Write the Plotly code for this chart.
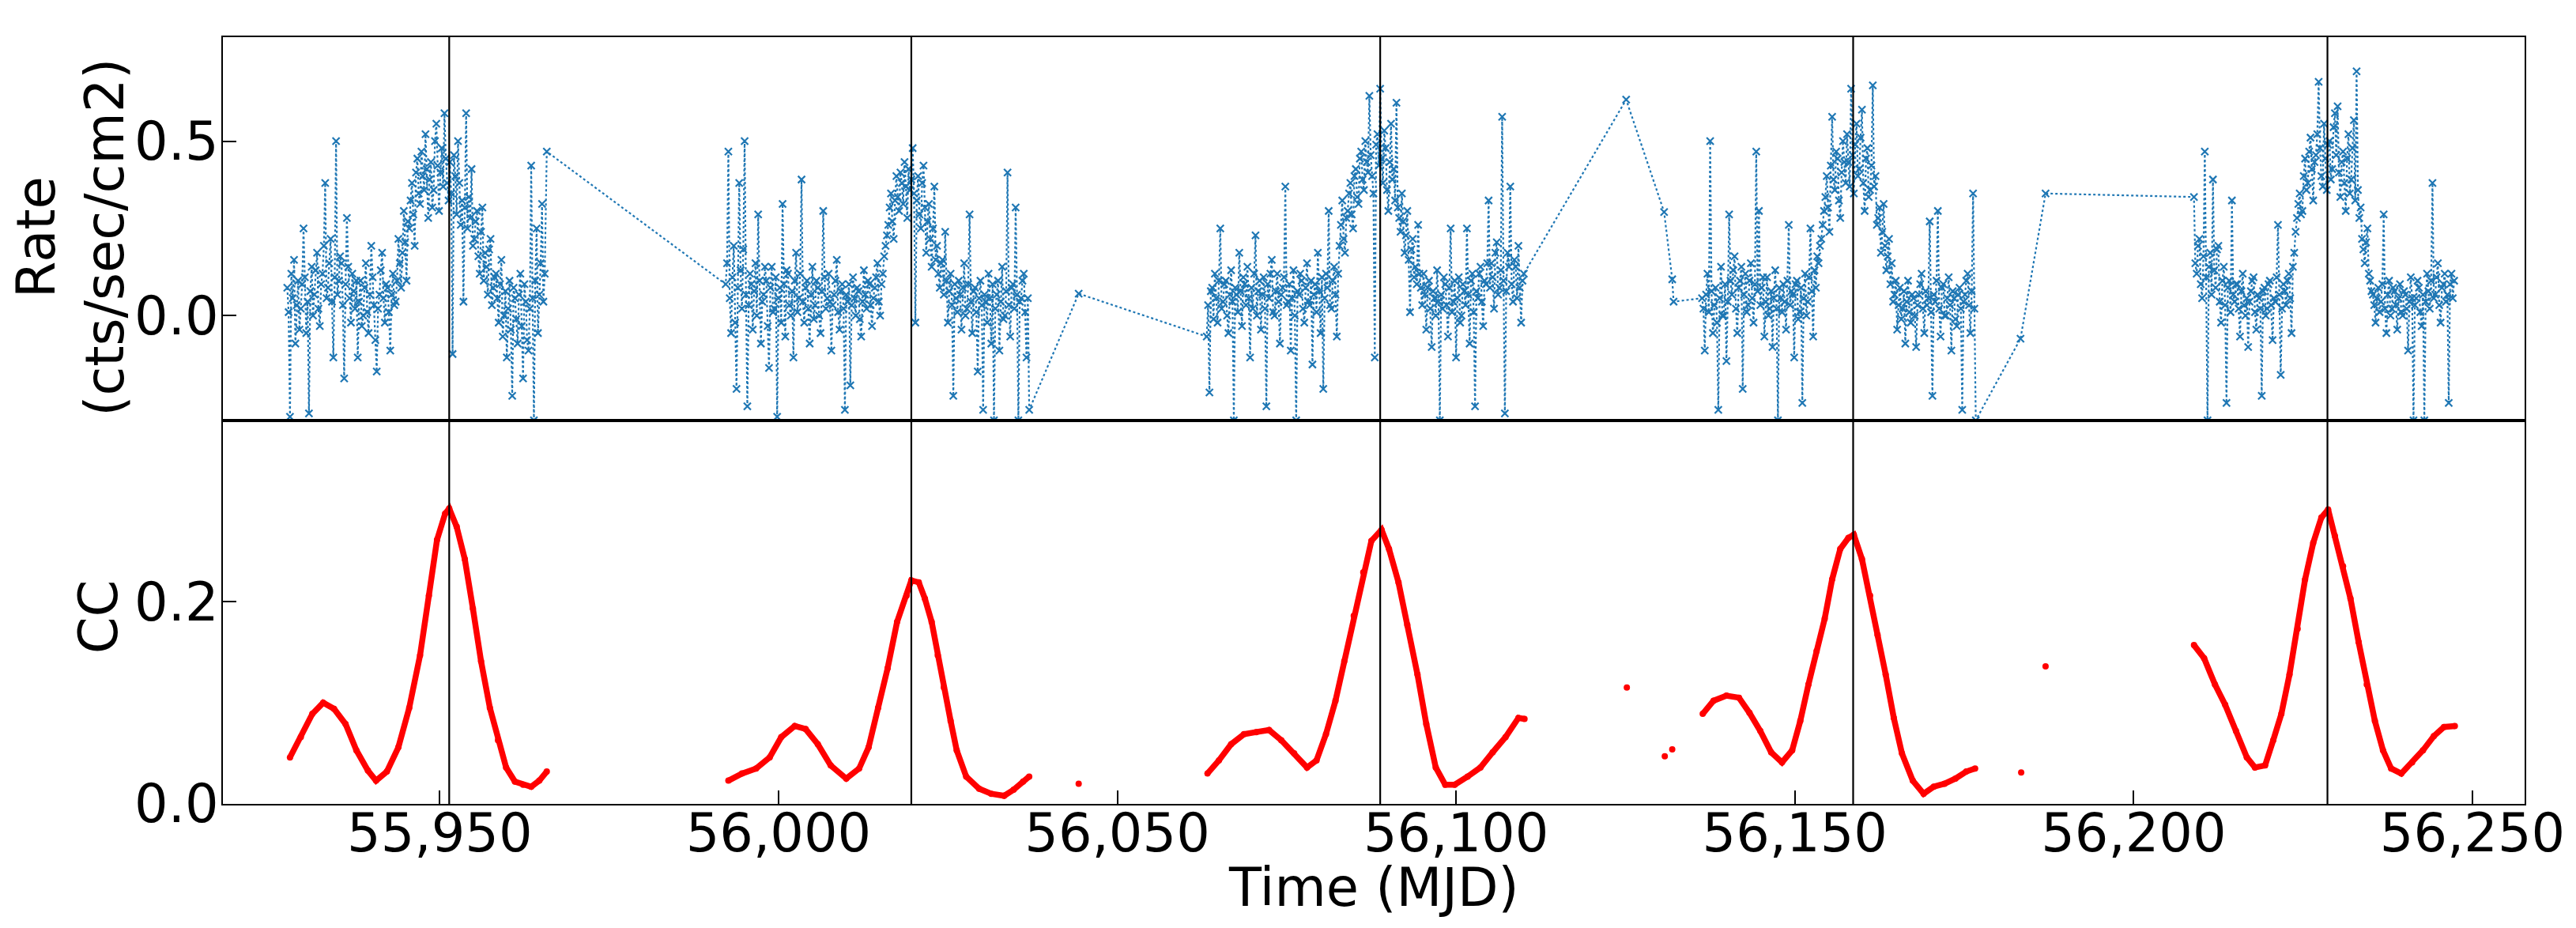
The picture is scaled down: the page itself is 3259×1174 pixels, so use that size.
import numpy as np
import plotly.graph_objects as go
from plotly.subplots import make_subplots

# ---------------- Rate light curve (cts/sec/cm2) ----------------
# regularly sampled segments: start MJD, sampling step (days), values
RATE_STEP = 0.2
segA_start = 55927.5
segA_vals = [0.08, 0.01, -0.29, 0.12, 0.05, 0.16, -0.08, 0.03, 0.10, -0.04,
             0.02, 0.09, 0.25, 0.11, -0.05, 0.04, -0.28, 0.07, 0.14, 0.00,
             0.06, 0.13, 0.18, 0.02, -0.03, 0.09, 0.12, 0.20, 0.38, 0.05,
             0.08, 0.15, 0.22, 0.04, -0.12, 0.11, 0.50, 0.06, 0.10, 0.17,
             0.15, 0.03, -0.18, 0.09, 0.28, 0.14, 0.05, -0.02, 0.12, 0.07,
             0.02, 0.10, -0.12, 0.04, 0.10, -0.03, 0.00, 0.08, 0.15, 0.01,
             -0.05, 0.06, 0.20, 0.11, 0.03, -0.07, -0.16, 0.02, 0.06, 0.13,
             0.18, 0.05, -0.02, 0.09, 0.08, 0.01, -0.10, 0.06, 0.12, 0.03,
             0.04, 0.10, 0.22, 0.15, 0.08, 0.18, 0.30, 0.21, 0.10, 0.27,
             0.25, 0.33, 0.38, 0.29, 0.20, 0.41, 0.45, 0.35, 0.32, 0.47,
             0.40, 0.36, 0.52, 0.42, 0.28, 0.39, 0.44, 0.31, 0.36, 0.50,
             0.55, 0.43, 0.30, 0.41, 0.48, 0.37, 0.58, 0.45, 0.38, 0.33,
             0.44, 0.35, -0.11, 0.46, 0.40, 0.29, 0.50, 0.38, 0.26, 0.33,
             0.04, 0.31, 0.58, 0.25, 0.34, 0.28, 0.42, 0.20, 0.22, 0.27,
             0.30, 0.17, 0.12, 0.24, 0.31, 0.10, 0.18, 0.14, 0.06, 0.19,
             0.22, 0.03, 0.08, 0.11, 0.12, 0.05, -0.02, 0.09, 0.16, -0.06,
             0.00, 0.07, -0.12, 0.02, 0.10, -0.04, -0.23, 0.08, 0.05, -0.01,
             -0.08, 0.06, 0.12, -0.03, -0.18, 0.09, 0.04, -0.07, -0.10, 0.02,
             0.43, 0.05, -0.30, 0.10, 0.25, -0.05, 0.06, 0.15, 0.32, 0.04,
             0.12]
segB_start = 55992.2
segB_vals = [0.09, 0.15, 0.47, 0.05, -0.05, 0.11, 0.20, -0.02, -0.21, 0.08,
             0.38, 0.13, 0.02, 0.19, 0.50, 0.06, -0.26, 0.03, 0.12, 0.09,
             -0.04, 0.07, 0.15, 0.00, 0.29, 0.10, -0.08, 0.04, 0.06, 0.14,
             0.10, -0.03, -0.15, 0.08, 0.14, 0.01, 0.02, 0.11, -0.29, 0.05,
             0.08, -0.02, 0.32, 0.09, -0.06, 0.13, 0.12, 0.03, 0.00, 0.07,
             -0.12, 0.10, 0.18, 0.01, 0.05, 0.12, 0.39, 0.04, -0.02, 0.08,
             0.10, 0.02, -0.08, 0.06, 0.14, -0.01, 0.03, 0.10, 0.08, 0.00,
             -0.05, 0.07, 0.30, 0.11, 0.02, 0.05, 0.12, 0.04, -0.10, 0.03,
             0.06, 0.10, 0.16, 0.01, -0.04, 0.07, 0.09, 0.02, -0.27, 0.06,
             0.04, 0.09, -0.20, 0.03, 0.11, 0.05, 0.00, 0.08, 0.07, -0.01,
             -0.06, 0.04, 0.13, 0.06, 0.02, 0.10, 0.09, 0.03, -0.03, 0.05,
             0.08, 0.11, 0.15, 0.04, 0.00, 0.09, 0.12, 0.17, 0.20, 0.23,
             0.26, 0.31, 0.35, 0.27, 0.22, 0.33, 0.40, 0.34, 0.30, 0.41,
             0.38, 0.32, 0.44, 0.37, 0.28, 0.42, 0.36, 0.39, 0.48, 0.35,
             -0.02, 0.33, 0.40, 0.29, 0.25, 0.38, 0.43, 0.31, 0.18, 0.27,
             0.32, 0.22, 0.14, 0.25, 0.37, 0.16, 0.20, 0.12, 0.08, 0.15,
             0.16, 0.06, 0.24, 0.10, -0.02, 0.07, 0.12, 0.03, -0.23, 0.09,
             0.05, 0.01, 0.10, 0.06, -0.04, 0.08, 0.15, 0.00, 0.02, 0.09,
             0.29, 0.04, -0.05, 0.07, 0.08, 0.01, -0.16, 0.05, 0.10, 0.03,
             -0.27, 0.06, 0.04, -0.02, 0.12, 0.05, -0.08, 0.09, -0.30, 0.02,
             0.06, 0.10, -0.10, 0.04, 0.14, -0.01, 0.00, 0.07, 0.41, 0.03,
             -0.06, 0.08, 0.09, 0.02, 0.31, 0.06, -0.30, 0.04, 0.05, 0.10,
             0.12, 0.01, -0.12, 0.05, -0.27]
segC_start = 56063.2
segC_vals = [-0.06, 0.03, -0.22, 0.07, 0.08, -0.01, 0.12, 0.05, -0.02, 0.10,
             0.25, 0.02, 0.04, 0.09, 0.10, 0.00, -0.05, 0.06, 0.13, 0.04,
             -0.30, 0.08, 0.06, 0.01, 0.18, 0.07, -0.03, 0.11, 0.09, 0.03,
             0.14, 0.05, -0.12, 0.08, 0.02, 0.12, 0.23, 0.00, 0.07, 0.10,
             -0.04, 0.06, 0.11, 0.02, -0.26, 0.09, 0.05, 0.12, 0.16, 0.01,
             0.00, 0.07, 0.12, 0.04, -0.08, 0.06, 0.08, 0.11, 0.37, 0.03,
             0.04, 0.09, -0.10, 0.05, 0.13, 0.00, -0.30, 0.07, 0.06, 0.12,
             0.10, 0.02, -0.02, 0.08, 0.15, 0.04, 0.03, 0.10, -0.14, 0.06,
             0.09, 0.01, 0.18, 0.07, -0.05, 0.11, -0.21, 0.05, 0.12, 0.08,
             0.30, 0.03, 0.02, 0.10, 0.14, 0.06, -0.06, 0.12, 0.20, 0.26,
             0.33, 0.22, 0.18, 0.28, 0.30, 0.35, 0.38, 0.29, 0.25, 0.40,
             0.42, 0.34, 0.32, 0.45, 0.47, 0.39, 0.36, 0.50, 0.44, 0.41,
             0.63, 0.46, 0.40, 0.35, -0.12, 0.49, 0.52, 0.43, 0.65, 0.45,
             0.38, 0.53, 0.48, 0.36, 0.30, 0.44, 0.55, 0.39, 0.42, 0.33,
             0.61, 0.31, 0.28, 0.24, 0.35, 0.27, 0.18, 0.23, 0.30, 0.16,
             0.01, 0.19, 0.22, 0.11, 0.14, 0.09, 0.26, 0.12, 0.08, 0.03,
             0.12, 0.06, -0.04, 0.08, 0.10, 0.02, -0.09, 0.07, 0.05, 0.00,
             0.13, 0.04, -0.30, 0.06, 0.02, 0.11, 0.09, 0.03, -0.06, 0.08,
             0.25, 0.01, 0.04, 0.10, -0.12, 0.05, 0.11, -0.02, 0.00, 0.09,
             0.07, 0.03, 0.25, 0.06, -0.08, 0.10, 0.12, 0.01, -0.26, 0.07,
             0.05, 0.12, 0.14, 0.04, -0.03, 0.10, 0.09, 0.15, 0.33, 0.08,
             0.15, 0.11, 0.02, 0.18, 0.21, 0.06, 0.08, 0.13, 0.57, 0.10,
             -0.28, 0.07, 0.18, 0.14, 0.37, 0.09, 0.04, 0.16, 0.14, 0.05,
             0.20, 0.08, -0.02, 0.10, 0.12]
segD_start = 56136.3
segD_vals = [0.05, 0.02, -0.10, 0.06, 0.12, 0.01, 0.50, 0.07, -0.05, 0.03,
             0.08, -0.02, -0.27, 0.05, 0.14, 0.00, 0.00, 0.09, -0.13, 0.04,
             0.29, 0.10, 0.06, 0.13, 0.17, 0.02, -0.05, 0.08, 0.10, 0.14,
             -0.21, 0.06, 0.12, 0.01, 0.03, 0.10, 0.15, 0.05, -0.02, 0.09,
             0.47, 0.07, 0.30, 0.03, 0.08, 0.11, -0.06, 0.04, 0.11, 0.00,
             0.02, 0.07, -0.09, 0.05, 0.13, 0.02, -0.30, 0.08, 0.05, 0.01,
             0.09, 0.04, -0.04, 0.10, 0.26, 0.03, 0.07, 0.06, -0.12, 0.09,
             0.10, -0.01, 0.01, 0.08, -0.25, 0.05, 0.12, 0.00, 0.04, 0.11,
             0.25, 0.07, -0.06, 0.13, 0.08, 0.17, 0.15, 0.20, 0.22, 0.26,
             0.30, 0.34, 0.40, 0.31, 0.24, 0.43, 0.57, 0.39, 0.36, 0.47,
             0.45, 0.33, 0.28, 0.41, 0.50, 0.44, 0.38, 0.52, 0.44, 0.37,
             0.65, 0.46, 0.35, 0.49, 0.55, 0.40, 0.42, 0.51, 0.59, 0.38,
             0.30, 0.45, 0.48, 0.34, 0.36, 0.43, 0.66, 0.37, 0.40, 0.26,
             0.28, 0.31, 0.18, 0.24, 0.32, 0.20, 0.13, 0.17, 0.22, 0.09,
             0.15, 0.04, 0.06, 0.10, -0.04, 0.03, 0.08, -0.01, 0.02, 0.07,
             -0.08, 0.04, 0.10, 0.01, -0.02, 0.06, 0.05, 0.00, -0.09, 0.03,
             0.06, 0.09, 0.12, 0.02, -0.05, 0.07, 0.03, 0.05, 0.27, 0.01,
             -0.23, 0.06, 0.04, 0.10, 0.30, 0.02, -0.06, 0.08, 0.09, 0.00,
             0.00, 0.05, 0.11, 0.03, -0.10, 0.07, 0.05, -0.01, -0.03, 0.06,
             0.08, 0.02, -0.27, 0.04, 0.06, 0.10, 0.12, 0.03, -0.05, 0.07,
             0.35, 0.02, -0.30]
segE_start = 56208.9
segE_vals = [0.34, 0.15, 0.12, 0.20, 0.22, 0.09, 0.05, 0.17, 0.47, 0.11,
             -0.30, 0.14, 0.18, 0.06, 0.39, 0.13, 0.08, 0.19, 0.20, 0.04,
             -0.02, 0.10, 0.14, 0.03, -0.25, 0.08, 0.10, 0.01, 0.33, 0.06,
             0.04, 0.09, 0.09, 0.02, -0.06, 0.07, 0.12, 0.03, 0.00, 0.05,
             -0.09, 0.04, 0.07, 0.10, 0.11, 0.01, -0.04, 0.06, 0.05, 0.02,
             -0.23, 0.07, 0.08, 0.00, 0.02, 0.09, 0.10, 0.03, -0.07, 0.05,
             0.04, 0.11, 0.26, 0.06, -0.17, 0.02, 0.09, 0.07, 0.03, 0.10,
             0.12, 0.05, -0.05, 0.14, 0.18, 0.24, 0.28, 0.32, 0.35, 0.29,
             0.30, 0.40, 0.45, 0.36, 0.38, 0.47, 0.51, 0.42, 0.33, 0.44,
             0.46, 0.52, 0.67, 0.48, 0.40, 0.37, 0.55, 0.45, 0.36, 0.49,
             0.50, 0.39, 0.42, 0.54, 0.58, 0.46, 0.60, 0.41, 0.34, 0.44,
             0.47, 0.38, 0.30, 0.45, 0.52, 0.35, 0.39, 0.48, 0.56, 0.33,
             0.70, 0.36, 0.28, 0.31, 0.22, 0.19, 0.15, 0.21, 0.25, 0.12,
             0.10, 0.07, 0.06, 0.03, -0.02, 0.05, 0.08, 0.01, 0.04, 0.09,
             0.29, 0.02, -0.05, 0.06, 0.10, 0.00, 0.02, 0.08, 0.07, 0.03,
             -0.04, 0.05, 0.09, 0.01, 0.00, 0.07, 0.06, 0.02, -0.10, 0.04,
             0.11, 0.05, -0.30, 0.03, 0.05, 0.10, 0.08, 0.01, -0.03, 0.06,
             -0.30, 0.04, 0.12, 0.07, 0.02, 0.10, 0.38, 0.05, 0.06, 0.11,
             0.15, 0.03, -0.02, 0.08, 0.09, 0.12, 0.04, 0.06, -0.25, 0.09,
             0.12, 0.05, 0.10]
# sparse points between the segments
gapA_t, gapA_v = [55965.8], [0.47]
gapB_t, gapB_v = [56044.3], [0.063]
gapC_t, gapC_v = [56125.1, 56130.7, 56131.9, 56132.1], [0.619, 0.297, 0.104, 0.040]
gapD_t, gapD_v = [56183.3, 56187.0], [-0.066, 0.350]

# ---------------- Cross-correlation (CC) ----------------
cc1_t = [55927.9, 55929.5, 55931.2, 55932.8, 55934.4, 55936.1, 55937.7, 55939.4, 55940.6, 55942.2,
         55943.9, 55945.5, 55947.1, 55948.4, 55949.6, 55950.8, 55951.4, 55952.5, 55953.7, 55954.9,
         55956.1, 55957.4, 55958.6, 55959.8, 55961.1, 55962.3, 55963.5, 55964.7, 55965.8]
cc1_v = [0.046, 0.066, 0.089, 0.100, 0.094, 0.079, 0.053, 0.033, 0.023, 0.032,
         0.056, 0.095, 0.147, 0.206, 0.261, 0.287, 0.292, 0.274, 0.242, 0.193,
         0.141, 0.095, 0.063, 0.036, 0.022, 0.019, 0.017, 0.023, 0.032]
cc2_t = [55992.6, 55994.6, 55996.7, 55998.7, 56000.4, 56002.4, 56004.0, 56005.8, 56007.7, 56010.0,
         56011.9, 56013.3, 56014.7, 56016.1, 56017.5, 56018.9, 56019.6, 56020.7, 56021.6, 56022.6,
         56023.5, 56024.4, 56025.4, 56026.3, 56027.7, 56029.6, 56031.4, 56033.3, 56034.7, 56036.1,
         56037.0]
cc2_v = [0.023, 0.030, 0.035, 0.046, 0.066, 0.077, 0.074, 0.059, 0.038, 0.025,
         0.035, 0.056, 0.095, 0.134, 0.180, 0.206, 0.221, 0.219, 0.203, 0.180,
         0.147, 0.115, 0.082, 0.053, 0.027, 0.015, 0.010, 0.008, 0.014, 0.022,
         0.027]
cc3_t = [56063.3, 56065.0, 56066.8, 56068.7, 56070.5, 56072.4, 56074.2, 56076.1, 56078.0, 56079.4,
         56080.8, 56082.2, 56083.5, 56084.9, 56086.3, 56087.5, 56089.0, 56090.1, 56091.5, 56092.8,
         56094.3, 56095.6, 56097.0, 56098.4, 56099.8, 56101.7, 56103.6, 56105.4, 56107.3, 56109.2,
         56110.1]
cc3_v = [0.030, 0.043, 0.059, 0.069, 0.071, 0.073, 0.063, 0.050, 0.036, 0.043,
         0.069, 0.102, 0.141, 0.186, 0.229, 0.260, 0.271, 0.252, 0.219, 0.177,
         0.128, 0.079, 0.036, 0.019, 0.019, 0.027, 0.036, 0.051, 0.066, 0.085,
         0.084]
cc4_t = [56136.4, 56138.0, 56139.9, 56141.75, 56143.3, 56144.9, 56146.5, 56148.1, 56149.6, 56150.8,
         56152.0, 56153.2, 56154.4, 56155.5, 56156.7, 56157.9, 56158.7, 56159.9, 56161.1, 56162.2,
         56163.4, 56164.6, 56165.8, 56167.4, 56169.0, 56170.5, 56172.1, 56173.7, 56175.3, 56176.6]
cc4_v = [0.089, 0.102, 0.107, 0.105, 0.090, 0.072, 0.051, 0.041, 0.053, 0.082,
         0.118, 0.151, 0.183, 0.222, 0.252, 0.263, 0.266, 0.242, 0.206, 0.167,
         0.128, 0.085, 0.050, 0.023, 0.010, 0.017, 0.020, 0.025, 0.032, 0.035]
cc5_t = [56208.9, 56210.4, 56212.0, 56213.5, 56215.1, 56216.7, 56217.9, 56219.4, 56220.6, 56221.8,
         56223.0, 56224.2, 56225.3, 56226.5, 56227.7, 56228.7, 56229.7, 56230.9, 56232.0, 56233.2,
         56234.4, 56235.6, 56236.8, 56238.0, 56239.5, 56241.1, 56242.7, 56244.3, 56245.8, 56247.4]
cc5_v = [0.157, 0.144, 0.118, 0.098, 0.072, 0.046, 0.036, 0.038, 0.063, 0.089,
         0.128, 0.173, 0.222, 0.258, 0.283, 0.291, 0.265, 0.235, 0.203, 0.160,
         0.118, 0.082, 0.053, 0.035, 0.030, 0.041, 0.053, 0.067, 0.076, 0.077]
cc_single_t = [56044.3, 56125.2, 56130.8, 56131.9, 56183.4, 56187.0]
cc_single_v = [0.020, 0.115, 0.047, 0.054, 0.031, 0.136]

# vertical reference epochs (MJD)
epochs = [55951.4, 56019.6, 56088.8, 56158.6, 56228.6]

x_ticks = [55950, 56000, 56050, 56100, 56150, 56200, 56250]
rate_ticks = [0.0, 0.5]
cc_ticks = [0.0, 0.2]
x_range = [55918.0, 56257.7]
rate_range = [-0.3006, 0.798]
cc_range = [0.0, 0.379]

# ---------------- assemble ----------------
def seg_times(start, vals):
    return list(np.round(start + RATE_STEP * np.arange(len(vals)), 3))

rate_t = (seg_times(segA_start, segA_vals) + gapA_t + seg_times(segB_start, segB_vals) + gapB_t
          + seg_times(segC_start, segC_vals) + gapC_t + seg_times(segD_start, segD_vals) + gapD_t
          + seg_times(segE_start, segE_vals))
rate_v = (segA_vals + gapA_v + segB_vals + gapB_v + segC_vals + gapC_v + segD_vals + gapD_v + segE_vals)

cc_t, cc_v = [], []
for t, v in [(cc1_t, cc1_v), (cc2_t, cc2_v), (cc3_t, cc3_v), (cc4_t, cc4_v), (cc5_t, cc5_v)]:
    cc_t += t + [None]
    cc_v += v + [None]

BLUE = '#1f77b4'
FONT = 'DejaVu Sans'
FS = 67

fig = make_subplots(rows=2, cols=1, shared_xaxes=True, vertical_spacing=0)

fig.add_trace(go.Scatter(
    x=rate_t, y=rate_v, mode='lines+markers',
    line=dict(color=BLUE, width=2.2, dash='dot'),
    marker=dict(symbol='x-thin', size=9, color=BLUE, line=dict(color=BLUE, width=2.2)),
    showlegend=False), row=1, col=1)

fig.add_trace(go.Scatter(
    x=cc_t, y=cc_v, mode='lines+markers',
    line=dict(color='red', width=7.5),
    marker=dict(size=8, color='red'),
    connectgaps=False, showlegend=False), row=2, col=1)

fig.add_trace(go.Scatter(
    x=cc_single_t, y=cc_single_v, mode='markers',
    marker=dict(size=8, color='red'), showlegend=False), row=2, col=1)

for e in epochs:
    fig.add_shape(type='line', xref='x', yref='paper', x0=e, x1=e, y0=0, y1=1,
                  line=dict(color='black', width=2.2), layer='above')

axis_common = dict(showline=True, linecolor='black', linewidth=2, mirror=True,
                   showgrid=False, zeroline=False, automargin=False,
                   tickfont=dict(family=FONT, size=FS, color='black'))

fig.update_xaxes(range=x_range, ticks='', showticklabels=False, row=1, col=1, **axis_common)
fig.update_xaxes(range=x_range, tickvals=x_ticks, tickformat=',', ticks='inside', ticklen=17,
                 tickwidth=2, tickcolor='black', ticklabelstandoff=-22,
                 row=2, col=1, **axis_common)
fig.update_yaxes(range=rate_range, tickvals=rate_ticks, ticktext=['0.0', '0.5'], ticks='inside',
                 ticklen=17, tickwidth=2, tickcolor='black', domain=[0.5, 1.0], ticklabelstandoff=-10,
                 row=1, col=1, **axis_common)
fig.update_yaxes(range=cc_range, tickvals=cc_ticks, ticktext=['0.0', '0.2'], ticks='inside',
                 ticklen=17, tickwidth=2, tickcolor='black', domain=[0.0, 0.5], ticklabelstandoff=-10,
                 row=2, col=1, **axis_common)

title_font = dict(family=FONT, size=FS, color='black')
fig.add_annotation(text='Time (MJD)', xref='paper', yref='paper', x=0.5, y=-0.109,
                   xanchor='center', yanchor='middle', showarrow=False, font=title_font)
fig.add_annotation(text='Rate<br>(cts/sec/cm2)', xref='paper', yref='paper', x=-0.0661, y=0.739,
                   xanchor='center', yanchor='middle', textangle=-90, showarrow=False, font=title_font)
fig.add_annotation(text='CC', xref='paper', yref='paper', x=-0.0539, y=0.244,
                   xanchor='center', yanchor='middle', textangle=-90, showarrow=False, font=title_font)

fig.update_layout(width=3259, height=1174, margin=dict(l=282, r=65, t=47, b=157),
                  paper_bgcolor='white', plot_bgcolor='white', hovermode=False,
                  font=dict(family=FONT, size=FS, color='black'))

fig.write_html('out.html', config={'displayModeBar': False, 'staticPlot': True},
               post_script="document.body.style.margin='0px';document.body.style.overflow='hidden';")
